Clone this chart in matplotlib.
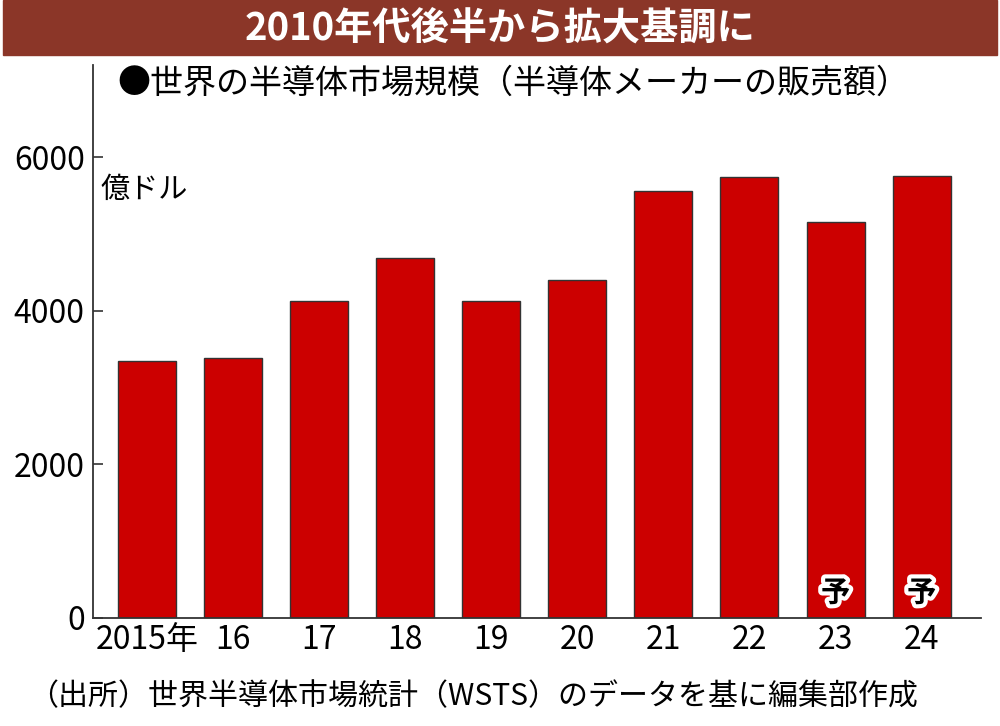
import matplotlib.pyplot as plt
import matplotlib.patheffects as pe
from matplotlib.patches import Rectangle

plt.rcParams['font.family'] = ['Noto Sans CJK JP', 'DejaVu Sans']

# データ（WSTS、億ドル）
years = ['2015年', '16', '17', '18', '19', '20', '21', '22', '23', '24']
sales = [3352, 3389, 4122, 4688, 4123, 4404, 5559, 5741, 5151, 5760]
forecast = [False] * 8 + [True, True]

fig = plt.figure(figsize=(10, 7.26), dpi=100)

# タイトル帯
fig.patches.append(Rectangle((0.003, 1 - 55 / 726), 0.994, 55 / 726,
                             transform=fig.transFigure, color='#8b3628', zorder=0))
fig.text(0.5, 1 - 28 / 726, '2010年代後半から拡大基調に', color='white',
         fontsize=27.5, fontweight='bold', ha='center', va='center')

ax = fig.add_axes([0.093, 1 - 618 / 726, 0.888, (618 - 65) / 726])

x = range(len(years))
ax.bar(x, sales, width=0.674, color='#cc0000', edgecolor='#333333', linewidth=1)

for i, f in enumerate(forecast):
    if f:
        ax.text(i, 330, '予', ha='center', va='center', fontsize=21, fontweight='bold',
                color='black', path_effects=[pe.withStroke(linewidth=6, foreground='white')])

ax.set_xlim(-0.628, 9.69)
ax.set_ylim(0, 7200)
ax.set_yticks([0, 2000, 4000, 6000])
ax.set_xticks(list(x))
ax.set_xticklabels(years)
ax.tick_params(axis='y', direction='in', length=7, width=1.2, color='#333333',
               labelsize=23, pad=6)
ax.tick_params(axis='x', length=0, labelsize=23, pad=4)
for s in ['top', 'right']:
    ax.spines[s].set_visible(False)
for s in ['left', 'bottom']:
    ax.spines[s].set_color('#333333')
    ax.spines[s].set_linewidth(1.3)

fig.text(0.117, 1 - 83 / 726, '●世界の半導体市場規模（半導体メーカーの販売額）',
         fontsize=23.8, ha='left', va='center')
fig.text(0.100, 1 - 190 / 726, '億ドル', fontsize=21, ha='left', va='center')
fig.text(0.028, 1 - 697 / 726, '（出所）世界半導体市場統計（WSTS）のデータを基に編集部作成',
         fontsize=21.6, ha='left', va='center')

fig.savefig('out.png', dpi=100)
